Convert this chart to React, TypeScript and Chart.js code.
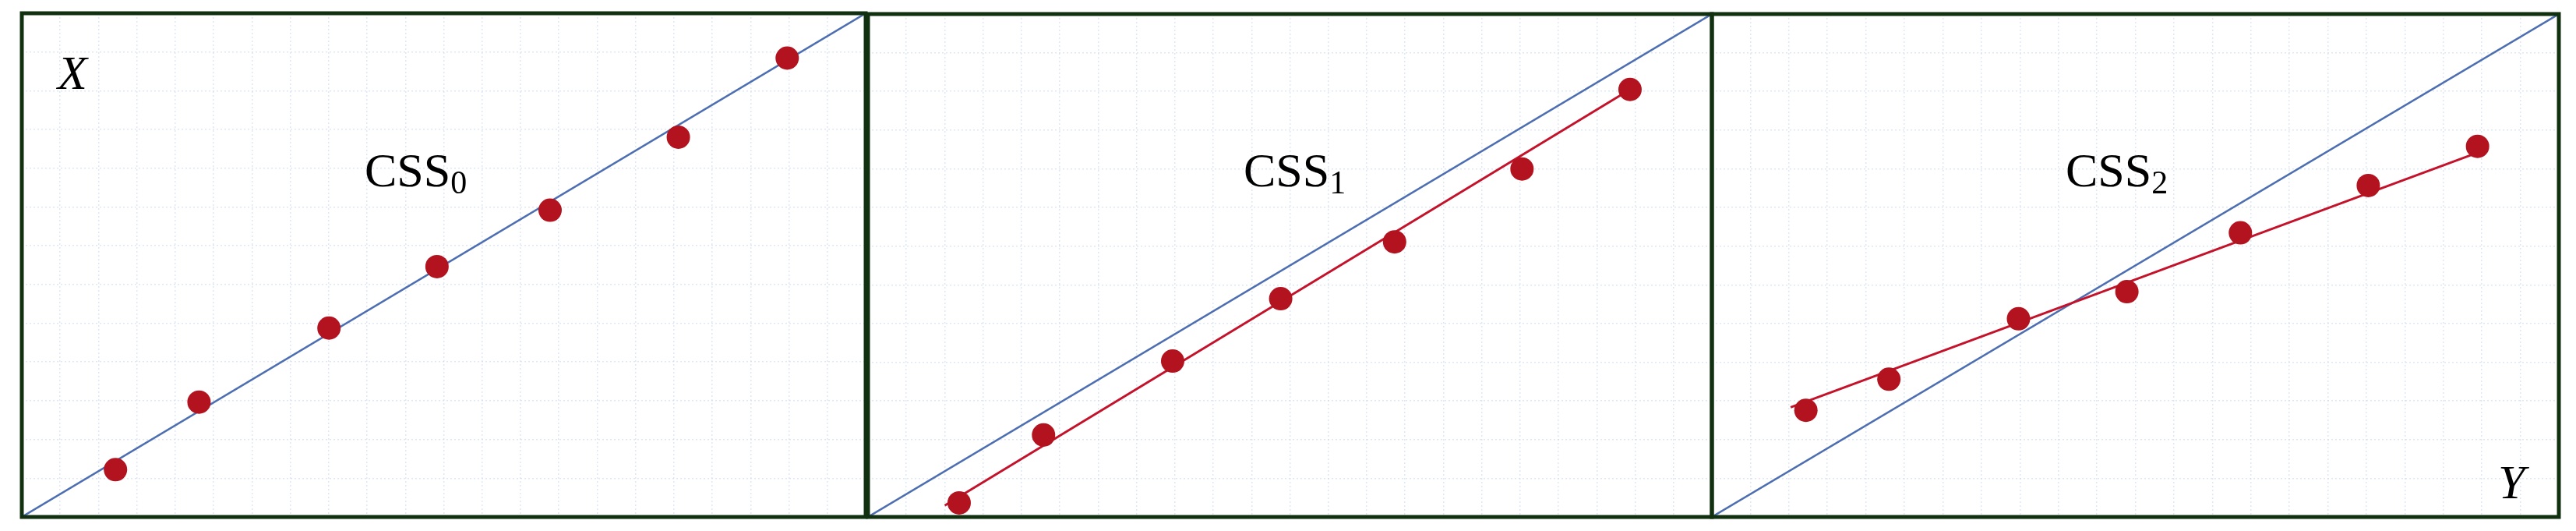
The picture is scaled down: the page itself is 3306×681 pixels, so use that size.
import React, { useEffect, useRef } from "react";
import { Chart, registerables } from "chart.js";

Chart.register(...registerables);

// ---- data (axis units 0..100 in each panel) ----
const panelNames = ["CSS", "CSS", "CSS"];
const panelSubscripts = ["0", "1", "2"];

const css0X = [11.1, 21.0, 36.4, 49.2, 62.6, 77.8, 90.7];
const css0Y = [9.4, 22.8, 37.5, 49.7, 60.9, 75.4, 91.1];

const css1X = [10.8, 20.8, 36.1, 48.9, 62.4, 77.5, 90.3];
const css1Y = [2.8, 16.3, 31.0, 43.4, 54.7, 69.2, 85.0];

const css2X = [11.1, 20.9, 36.2, 49.0, 62.4, 77.5, 90.4];
const css2Y = [21.2, 27.4, 39.4, 44.8, 56.5, 65.9, 73.7];

// fitted (red) lines: [x0, y0, x1, y1]
const css1FitX = [9.1, 90.3];
const css1FitY = [2.3, 85.0];
const css2FitX = [9.3, 90.0];
const css2FitY = [21.8, 72.2];

// reference diagonal
const diagX = [0, 100];
const diagY = [0, 100];

const cornerLabels = ["X", "", "Y"];

// ---- layout (page pixels) ----
const PAD = 8;
const panels = [
  { left: 28, right: 1111, top: 17, bottom: 663 },
  { left: 1114, right: 2197, top: 18, bottom: 663 },
  { left: 2197, right: 3284, top: 18, bottom: 663 },
];
const titlePos = [
  { x: 468, y: 239 },
  { x: 1596, y: 239 },
  { x: 2651, y: 239 },
];
const cornerPos = [
  { x: 74, y: 114 },
  { x: 0, y: 0 },
  { x: 3206, y: 639 },
];

const RED = "#b3121f";
const RED_LINE = "#c4122a";
const BLUE = "#4d6fb2";
const FRAME = "#103010";

function zip(xs: number[], ys: number[]) {
  return xs.map((x, i) => ({ x, y: ys[i] }));
}

const pointsX = [css0X, css1X, css2X];
const pointsY = [css0Y, css1Y, css2Y];
const fitX: (number[] | null)[] = [null, css1FitX, css2FitX];
const fitY: (number[] | null)[] = [null, css1FitY, css2FitY];

function Panel({ idx }: { idx: number }) {
  const ref = useRef<HTMLCanvasElement | null>(null);
  const p = panels[idx];
  const w = p.right - p.left + 2 * PAD;
  const h = p.bottom - p.top + 2 * PAD;
  const originX = p.left - PAD;
  const originY = p.top - PAD;

  useEffect(() => {
    if (!ref.current) return;
    const datasets: any[] = [
      {
        label: "points",
        data: zip(pointsX[idx], pointsY[idx]),
        showLine: false,
        pointRadius: 15,
        pointBackgroundColor: RED,
        pointBorderColor: RED,
        pointBorderWidth: 0,
        order: 0,
      },
    ];
    const fx = fitX[idx];
    const fy = fitY[idx];
    if (fx && fy) {
      datasets.push({
        label: "fit",
        data: zip(fx, fy),
        showLine: true,
        borderColor: RED_LINE,
        borderWidth: 3,
        pointRadius: 0,
        order: 1,
      });
    }
    datasets.push({
      label: "diag",
      data: zip(diagX, diagY),
      showLine: true,
      borderColor: BLUE,
      borderWidth: 2.5,
      pointRadius: 0,
      order: 2,
    });

    const overlay = {
      id: "overlay" + idx,
      afterDraw(chart: any) {
        const ctx = chart.ctx;
        const a = chart.chartArea;
        ctx.save();
        // frame
        ctx.strokeStyle = FRAME;
        ctx.lineWidth = 5;
        ctx.strokeRect(a.left, a.top, a.right - a.left, a.bottom - a.top);
        // title
        ctx.fillStyle = "#000";
        ctx.textBaseline = "alphabetic";
        ctx.textAlign = "left";
        ctx.font = '62px "Liberation Serif", "Times New Roman", serif';
        const tx = titlePos[idx].x - originX;
        const ty = titlePos[idx].y - originY;
        ctx.fillText(panelNames[idx], tx, ty);
        const mw = ctx.measureText(panelNames[idx]).width;
        ctx.font = '42px "Liberation Serif", "Times New Roman", serif';
        ctx.fillText(panelSubscripts[idx], tx + mw, ty + 9);
        // corner label
        if (cornerLabels[idx]) {
          ctx.font = 'italic 62px "Liberation Serif", "Times New Roman", serif';
          ctx.fillText(cornerLabels[idx], cornerPos[idx].x - originX, cornerPos[idx].y - originY);
        }
        ctx.restore();
      },
    };

    const chart = new Chart(ref.current, {
      type: "scatter",
      data: { datasets },
      options: {
        animation: false,
        responsive: false,
        maintainAspectRatio: false,
        devicePixelRatio: 1,
        layout: { padding: PAD, autoPadding: false },
        plugins: { legend: { display: false }, tooltip: { enabled: false }, title: { display: false } },
        scales: {
          x: {
            type: "linear",
            min: 0,
            max: 100,
            ticks: { display: false, stepSize: 100 / 22 },
            grid: { drawTicks: false, color: "rgba(196,212,236,0.55)", lineWidth: 1.5 },
            border: { display: false, dash: [2, 3] },
          },
          y: {
            type: "linear",
            min: 0,
            max: 100,
            ticks: { display: false, stepSize: 100 / 13 },
            grid: { drawTicks: false, color: "rgba(196,212,236,0.55)", lineWidth: 1.5 },
            border: { display: false, dash: [2, 3] },
          },
        },
      } as any,
      plugins: [overlay],
    });
    return () => chart.destroy();
  }, [idx]);

  return (
    <canvas
      ref={ref}
      width={w}
      height={h}
      style={{ position: "absolute", left: originX, top: originY, width: w, height: h }}
    />
  );
}

export default function App() {
  return (
    <div
      style={{
        position: "absolute",
        left: 0,
        top: 0,
        width: 3306,
        height: 681,
        background: "#fff",
        overflow: "hidden",
      }}
    >
      {panels.map((_, i) => (
        <Panel key={i} idx={i} />
      ))}
    </div>
  );
}
